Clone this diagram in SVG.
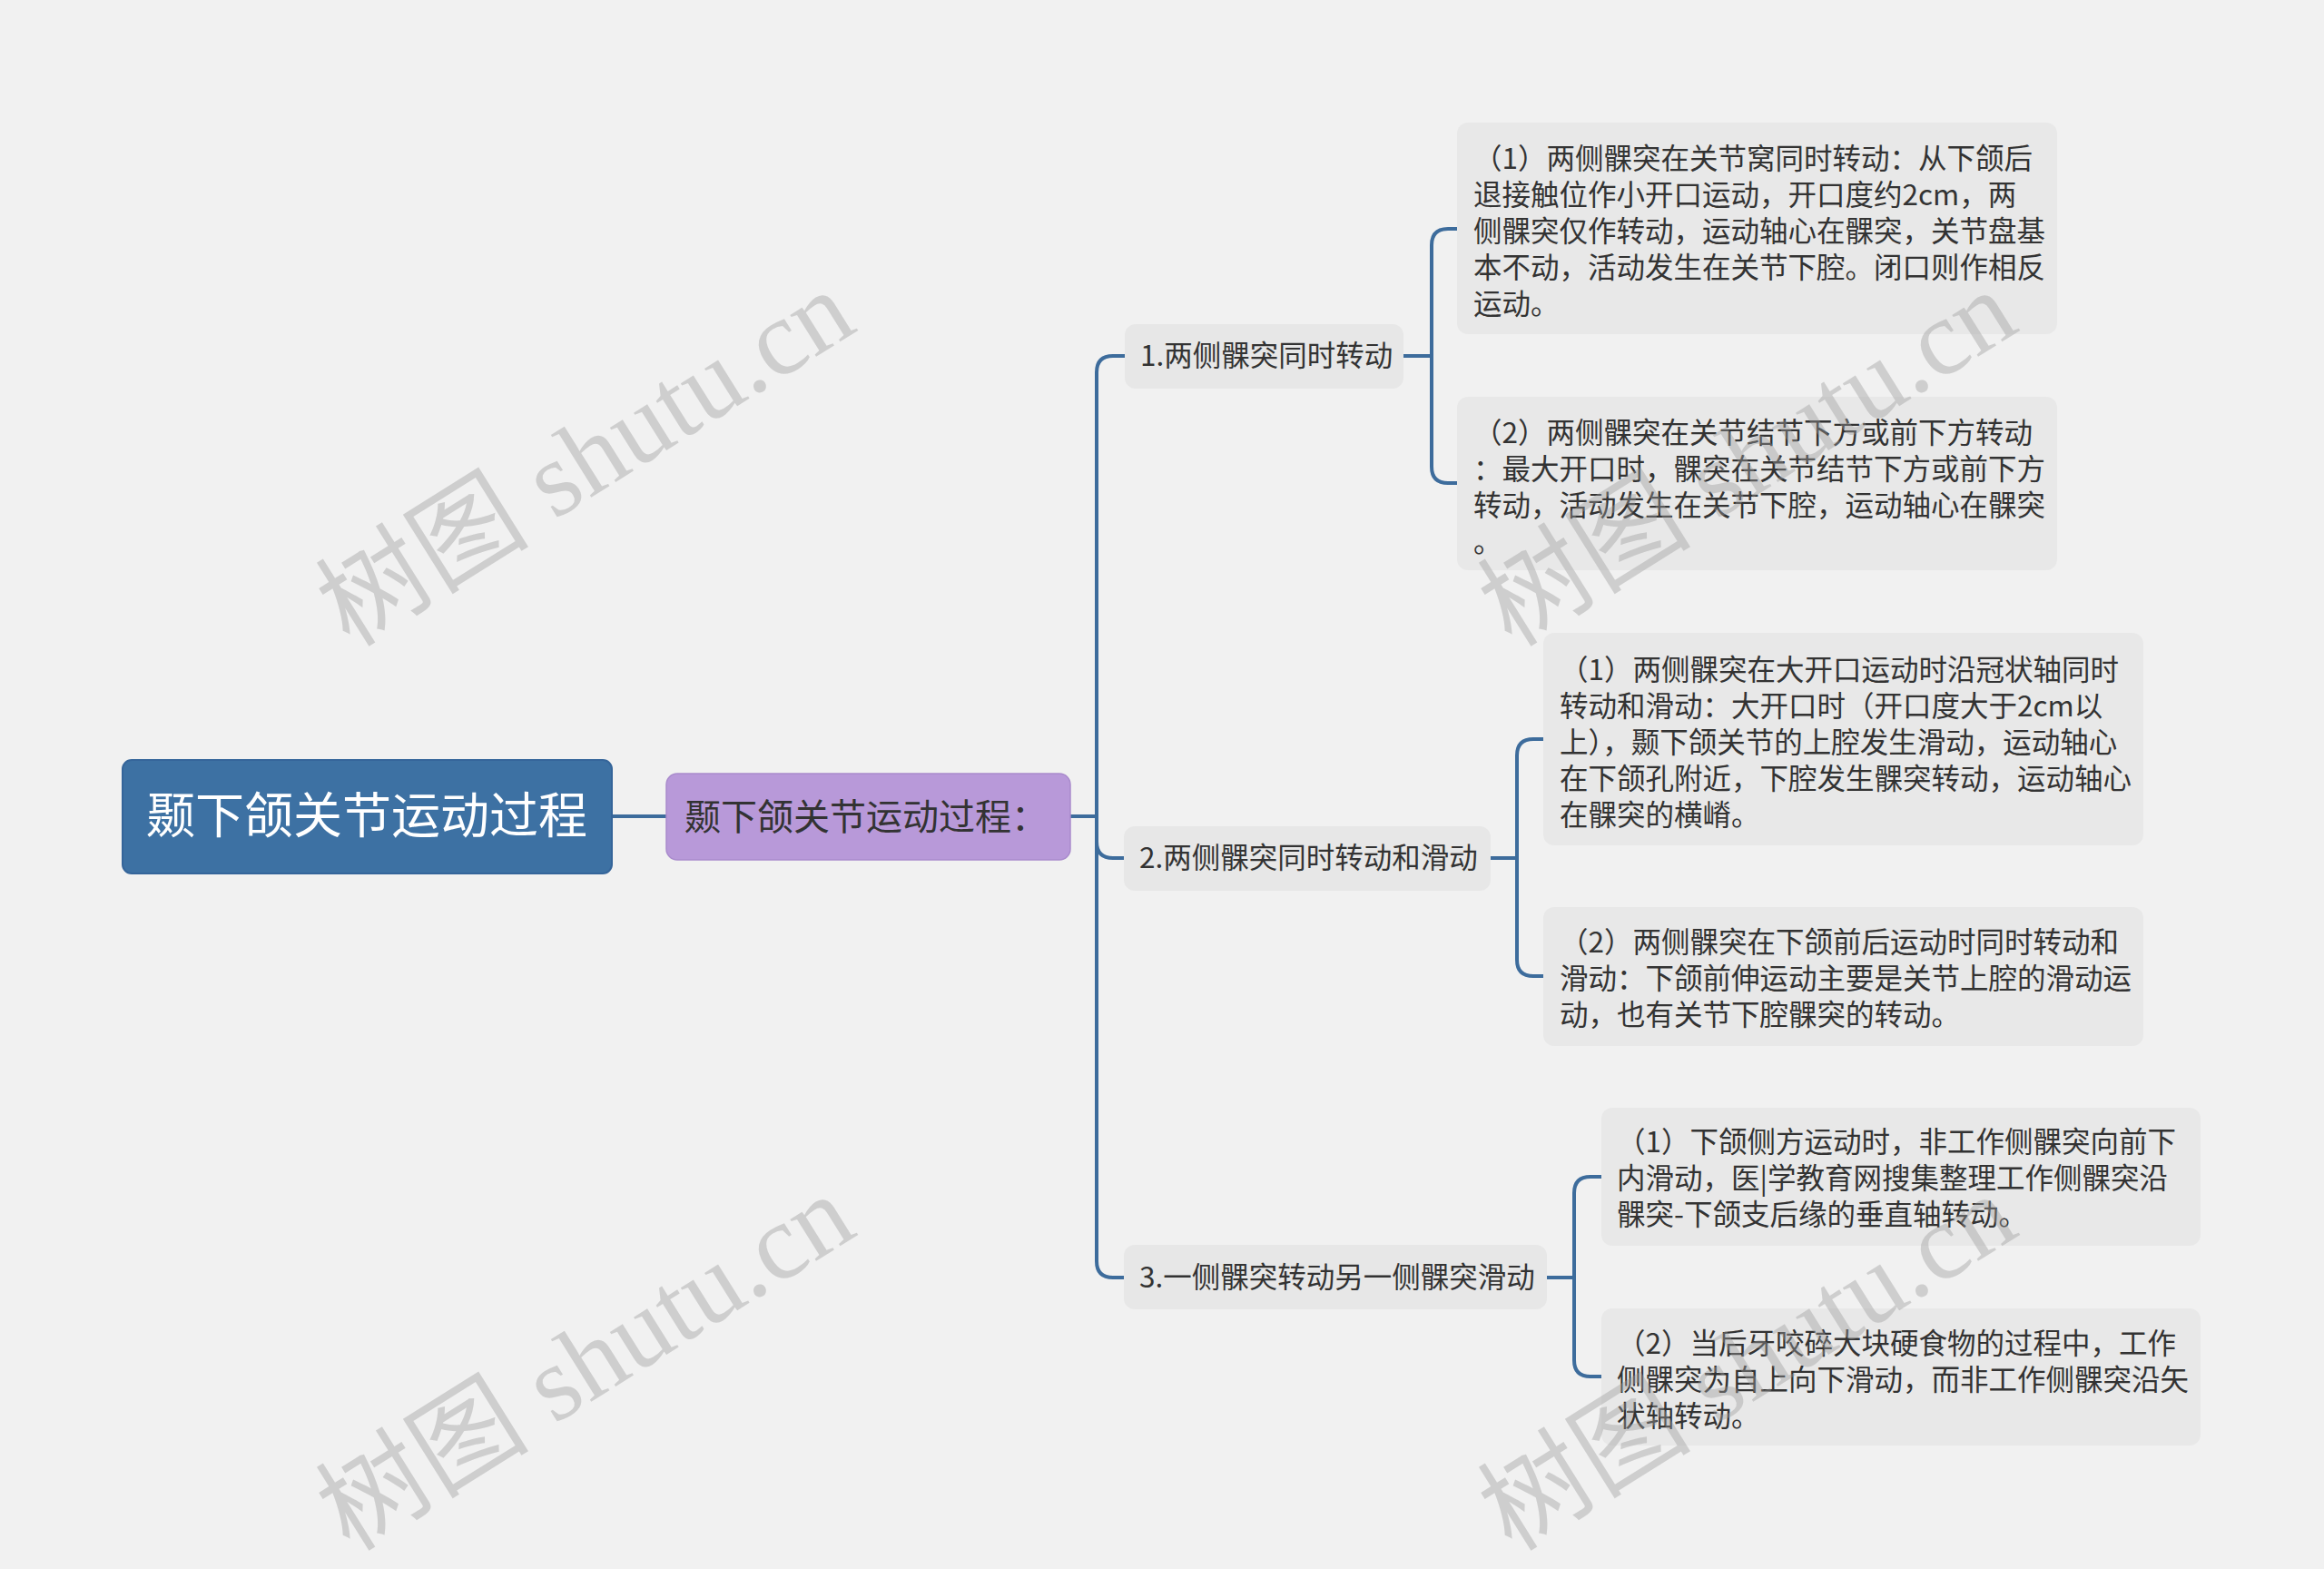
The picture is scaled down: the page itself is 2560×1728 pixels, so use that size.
<svg xmlns="http://www.w3.org/2000/svg" width="2560" height="1728" viewBox="0 0 2560 1728">
<style>
.bg{fill:#f1f1f1}
.root{fill:#3d71a3;stroke:#35659a;stroke-width:2}
.sub{fill:#b899d9;stroke:#a98bcc;stroke-width:1.5}
.l2{fill:#e7e7e7}
.leaf{fill:#e8e8e8}
.t{font-family:"Noto Sans CJK SC","Noto Sans",sans-serif;fill:#333}
.t31{font-size:31.5px}
.conn{fill:none;stroke:#3d6c9c;stroke-width:4;stroke-linecap:round;stroke-linejoin:round}
.wm{font-family:"Liberation Serif","Noto Sans CJK SC",serif;font-size:118px;fill:#9a9a9a;fill-opacity:0.4}
</style>
<rect class="bg" x="0" y="0" width="2560" height="1728"/>
<g id="connectors">
<path class="conn" d="M674,899 H735"/>
<path class="conn" d="M1179,899 H1208 V410 Q1208,392 1226,392 H1239"/>
<path class="conn" d="M1179,899 H1208 V927 Q1208,945 1226,945 H1238"/>
<path class="conn" d="M1179,899 H1208 V1389 Q1208,1407 1226,1407 H1238"/>
<path class="conn" d="M1546,392 H1577 V270 Q1577,252 1595,252 H1605"/>
<path class="conn" d="M1546,392 H1577 V514 Q1577,532 1595,532 H1605"/>
<path class="conn" d="M1642,945 H1671 V832 Q1671,814 1689,814 H1700"/>
<path class="conn" d="M1642,945 H1671 V1057 Q1671,1075 1689,1075 H1700"/>
<path class="conn" d="M1704,1407 H1734 V1314 Q1734,1296 1752,1296 H1764"/>
<path class="conn" d="M1704,1407 H1734 V1498 Q1734,1516 1752,1516 H1764"/>
</g>
<g id="node-root">
<rect class="root" x="135" y="837" width="539" height="125" rx="10"/>
<text class="t" x="404" y="918" font-size="54" text-anchor="middle" style="fill:#ffffff">颞下颌关节运动过程</text>
</g>
<g id="node-sub">
<rect class="sub" x="734" y="852" width="445" height="95" rx="12"/>
<text class="t" x="754" y="914" font-size="40">颞下颌关节运动过程：</text>
</g>
<g id="node-1">
<rect class="l2" x="1239" y="357" width="307" height="71" rx="12"/>
<text class="t t31" x="1256" y="403">1.两侧髁突同时转动</text>
</g>
<g id="node-2">
<rect class="l2" x="1238" y="910" width="404" height="71" rx="12"/>
<text class="t t31" x="1255" y="956">2.两侧髁突同时转动和滑动</text>
</g>
<g id="node-3">
<rect class="l2" x="1238" y="1371" width="466" height="71" rx="12"/>
<text class="t t31" x="1255" y="1418">3.一侧髁突转动另一侧髁突滑动</text>
</g>
<g id="node-1-1">
<rect class="leaf" x="1605" y="135" width="661" height="233" rx="12"/>
<text class="t t31">
<tspan x="1623" y="186">（1）两侧髁突在关节窝同时转动：从下颌后</tspan>
<tspan x="1623" y="226">退接触位作小开口运动，开口度约2cm，两</tspan>
<tspan x="1623" y="266">侧髁突仅作转动，运动轴心在髁突，关节盘基</tspan>
<tspan x="1623" y="306">本不动，活动发生在关节下腔。闭口则作相反</tspan>
<tspan x="1623" y="346">运动。</tspan>
</text>
</g>
<g id="node-1-2">
<rect class="leaf" x="1605" y="437" width="661" height="191" rx="12"/>
<text class="t t31">
<tspan x="1623" y="488">（2）两侧髁突在关节结节下方或前下方转动</tspan>
<tspan x="1623" y="528">：最大开口时，髁突在关节结节下方或前下方</tspan>
<tspan x="1623" y="568">转动，活动发生在关节下腔，运动轴心在髁突</tspan>
<tspan x="1623" y="608">。</tspan>
</text>
</g>
<g id="node-2-1">
<rect class="leaf" x="1700" y="697" width="661" height="234" rx="12"/>
<text class="t t31">
<tspan x="1718" y="749">（1）两侧髁突在大开口运动时沿冠状轴同时</tspan>
<tspan x="1718" y="789">转动和滑动：大开口时（开口度大于2cm以</tspan>
<tspan x="1718" y="829">上），颞下颌关节的上腔发生滑动，运动轴心</tspan>
<tspan x="1718" y="869">在下颌孔附近，下腔发生髁突转动，运动轴心</tspan>
<tspan x="1718" y="909">在髁突的横嵴。</tspan>
</text>
</g>
<g id="node-2-2">
<rect class="leaf" x="1700" y="999" width="661" height="153" rx="12"/>
<text class="t t31">
<tspan x="1718" y="1049">（2）两侧髁突在下颌前后运动时同时转动和</tspan>
<tspan x="1718" y="1089">滑动：下颌前伸运动主要是关节上腔的滑动运</tspan>
<tspan x="1718" y="1129">动，也有关节下腔髁突的转动。</tspan>
</text>
</g>
<g id="node-3-1">
<rect class="leaf" x="1764" y="1220" width="660" height="152" rx="12"/>
<text class="t t31">
<tspan x="1781" y="1269">（1）下颌侧方运动时，非工作侧髁突向前下</tspan>
<tspan x="1781" y="1309">内滑动，医|学教育网搜集整理工作侧髁突沿</tspan>
<tspan x="1781" y="1349">髁突-下颌支后缘的垂直轴转动。</tspan>
</text>
</g>
<g id="node-3-2">
<rect class="leaf" x="1764" y="1441" width="660" height="151" rx="12"/>
<text class="t t31">
<tspan x="1781" y="1491">（2）当后牙咬碎大块硬食物的过程中，工作</tspan>
<tspan x="1781" y="1531">侧髁突为自上向下滑动，而非工作侧髁突沿矢</tspan>
<tspan x="1781" y="1571">状轴转动。</tspan>
</text>
</g>
<g id="watermarks">
<text class="wm" text-anchor="middle" dominant-baseline="central" transform="translate(645,505) rotate(-32)">树图 shutu.cn</text>
<text class="wm" text-anchor="middle" dominant-baseline="central" transform="translate(1925,505) rotate(-32)">树图 shutu.cn</text>
<text class="wm" text-anchor="middle" dominant-baseline="central" transform="translate(645,1501) rotate(-32)">树图 shutu.cn</text>
<text class="wm" text-anchor="middle" dominant-baseline="central" transform="translate(1925,1501) rotate(-32)">树图 shutu.cn</text>
</g>
</svg>
